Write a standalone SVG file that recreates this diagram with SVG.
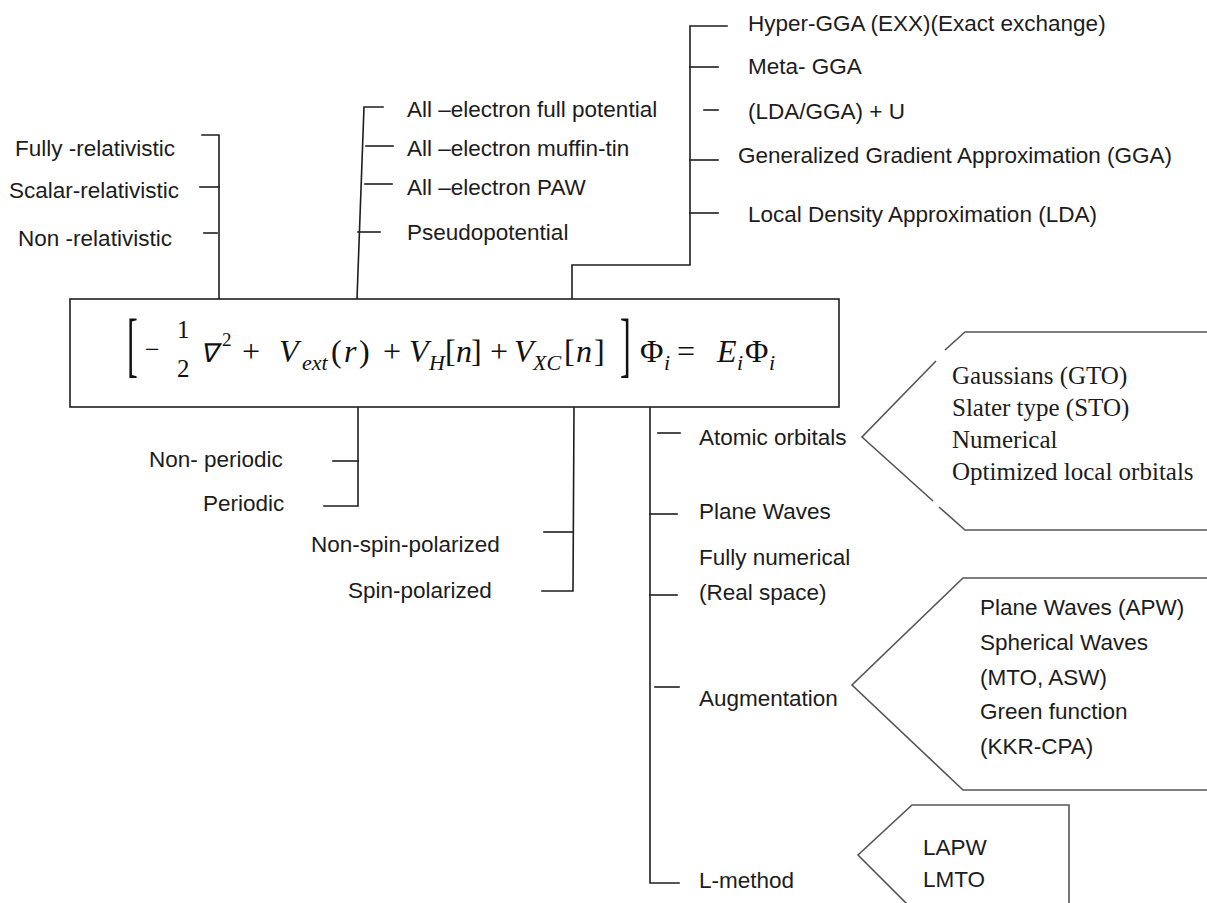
<svg xmlns="http://www.w3.org/2000/svg" width="1207" height="903" viewBox="0 0 1207 903">
<defs>
<style>
.bg{fill:#ffffff}
.ln{stroke:#1e1e1e;stroke-width:1.6;fill:none;stroke-linecap:square}
.sh{stroke:#555555;stroke-width:1.6;fill:none}
.lb{font-family:"Liberation Sans",Arial,sans-serif;font-size:22.5px;fill:#1c1c1c;dominant-baseline:central}
.sf{font-family:"Liberation Serif","Times New Roman",serif;font-size:25px;fill:#1c1c1c;dominant-baseline:central}
.eq{font-family:"Liberation Serif","Times New Roman",serif;font-size:32px;fill:#111111}
.it{font-style:italic}
.sub{font-size:22px}
.big{font-size:72px}
</style>
</defs>
<rect class="bg" x="0" y="0" width="1207" height="903"/>

<g id="connectors">
  <polyline class="ln" points="202,135 219,135 219,299"/>
  <line class="ln" x1="200" y1="187" x2="219" y2="187"/>
  <line class="ln" x1="204" y1="233" x2="217" y2="233"/>
  <polyline class="ln" points="383,107 364,107 357,299"/>
  <line class="ln" x1="366" y1="146" x2="393" y2="146"/>
  <line class="ln" x1="365" y1="184" x2="392" y2="184"/>
  <line class="ln" x1="358" y1="232" x2="380" y2="232"/>
  <polyline class="ln" points="572,299 572,265 690,265 690,26 727,26"/>
  <line class="ln" x1="690" y1="67" x2="718" y2="67"/>
  <line class="ln" x1="704" y1="110" x2="718" y2="110"/>
  <line class="ln" x1="690" y1="160" x2="718" y2="160"/>
  <line class="ln" x1="690" y1="213" x2="718" y2="213"/>
  <polyline class="ln" points="358,408 358,506 324,506"/>
  <line class="ln" x1="333" y1="461" x2="358" y2="461"/>
  <polyline class="ln" points="574,408 573,591 542,591"/>
  <line class="ln" x1="544" y1="532" x2="573" y2="532"/>
  <polyline class="ln" points="650,408 650,883 679,883"/>
  <line class="ln" x1="658" y1="433" x2="680" y2="433"/>
  <line class="ln" x1="650" y1="514" x2="677" y2="514"/>
  <line class="ln" x1="650" y1="595" x2="677" y2="595"/>
  <line class="ln" x1="655" y1="687" x2="679" y2="687"/>
</g>

<g id="equation">
  <rect x="70" y="299" width="769" height="108" fill="#ffffff" stroke="#1e1e1e" stroke-width="1.6"/>
  <text class="eq big" transform="translate(127,368) scale(0.45,1)">[</text>
  <text class="eq" x="145" y="358" style="font-size:26px">−</text>
  <text class="eq" x="177" y="338" style="font-size:25px">1</text>
  <text class="eq" x="177" y="377" style="font-size:25px">2</text>
  <text class="eq it" x="200" y="362" style="font-size:26px">∇</text>
  <text class="eq" x="222" y="346" style="font-size:19px">2</text>
  <text class="eq" x="242" y="362">+</text>
  <text class="eq it" x="279" y="362">V</text>
  <text class="eq it sub" x="302" y="370">ext</text>
  <text class="eq" x="331" y="362">(</text>
  <text class="eq it" x="344" y="362">r</text>
  <text class="eq" x="359" y="362">)</text>
  <text class="eq" x="383" y="362">+</text>
  <text class="eq it" x="409" y="362">V</text>
  <text class="eq it sub" x="429" y="370">H</text>
  <text class="eq" x="445" y="362">[</text>
  <text class="eq it" x="456" y="362">n</text>
  <text class="eq" x="471" y="362">]</text>
  <text class="eq" x="490" y="362">+</text>
  <text class="eq it" x="514" y="362">V</text>
  <text class="eq it sub" x="533" y="370">XC</text>
  <text class="eq" x="564" y="362">[</text>
  <text class="eq it" x="576" y="362">n</text>
  <text class="eq" x="594" y="362">]</text>
  <text class="eq big" transform="translate(620,368) scale(0.45,1)">]</text>
  <text class="eq" x="640" y="362">Φ</text>
  <text class="eq it sub" x="664" y="370">i</text>
  <text class="eq" x="677" y="362">=</text>
  <text class="eq it" x="717" y="362">E</text>
  <text class="eq it sub" x="737" y="370">i</text>
  <text class="eq" x="745" y="362">Φ</text>
  <text class="eq it sub" x="769" y="370">i</text>
</g>

<g id="n-fully"><text class="lb" x="95" y="148" text-anchor="middle">Fully -relativistic</text></g>
<g id="n-scalar"><text class="lb" x="94" y="190" text-anchor="middle">Scalar-relativistic</text></g>
<g id="n-nonrel"><text class="lb" x="95" y="238" text-anchor="middle">Non -relativistic</text></g>

<g id="n-fullpot"><text class="lb" x="407" y="109">All –electron full potential</text></g>
<g id="n-muffin"><text class="lb" x="407" y="148">All –electron muffin-tin</text></g>
<g id="n-paw"><text class="lb" x="407" y="187">All –electron PAW</text></g>
<g id="n-pseudo"><text class="lb" x="407" y="232">Pseudopotential</text></g>

<g id="n-hyper"><text class="lb" x="748" y="23">Hyper-GGA (EXX)(Exact exchange)</text></g>
<g id="n-meta"><text class="lb" x="748" y="66">Meta- GGA</text></g>
<g id="n-ldau"><text class="lb" x="748" y="111">(LDA/GGA) + U</text></g>
<g id="n-gga"><text class="lb" x="738" y="155">Generalized Gradient Approximation (GGA)</text></g>
<g id="n-lda"><text class="lb" x="748" y="214">Local Density Approximation (LDA)</text></g>

<g id="n-nonper"><text class="lb" x="149" y="459">Non- periodic</text></g>
<g id="n-per"><text class="lb" x="203" y="503">Periodic</text></g>
<g id="n-nonspin"><text class="lb" x="311" y="544">Non-spin-polarized</text></g>
<g id="n-spin"><text class="lb" x="348" y="590">Spin-polarized</text></g>

<g id="n-atomic"><text class="lb" x="699" y="437">Atomic orbitals</text></g>
<g id="n-plane"><text class="lb" x="699" y="511">Plane Waves</text></g>
<g id="n-fullnum"><text class="lb" x="699" y="557">Fully numerical</text><text class="lb" x="699" y="592">(Real space)</text></g>
<g id="n-aug"><text class="lb" x="699" y="698">Augmentation</text></g>
<g id="n-lmethod"><text class="lb" x="699" y="880">L-method</text></g>

<g id="n-atomic-list">
  <polyline class="sh" points="1210,332 965,332 945,350"/>
  <polyline class="sh" points="936,361 862,437 933,501"/>
  <polyline class="sh" points="939,507 965,530 1210,530"/>
  <text class="sf" x="952" y="375">Gaussians (GTO)</text>
  <text class="sf" x="952" y="407">Slater type (STO)</text>
  <text class="sf" x="952" y="439">Numerical</text>
  <text class="sf" x="952" y="471">Optimized local orbitals</text>
</g>

<g id="n-aug-list">
  <polyline class="sh" points="1210,578 963,578 852,685 963,790 1210,790"/>
  <text class="lb" x="980" y="607">Plane Waves (APW)</text>
  <text class="lb" x="980" y="642">Spherical Waves</text>
  <text class="lb" x="980" y="677">(MTO, ASW)</text>
  <text class="lb" x="980" y="711">Green function</text>
  <text class="lb" x="980" y="746">(KKR-CPA)</text>
</g>

<g id="n-l-list">
  <polyline class="sh" points="908,905 858,855 912,805 1069,805 1069,905"/>
  <text class="lb" x="923" y="847">LAPW</text>
  <text class="lb" x="923" y="879">LMTO</text>
</g>
</svg>
